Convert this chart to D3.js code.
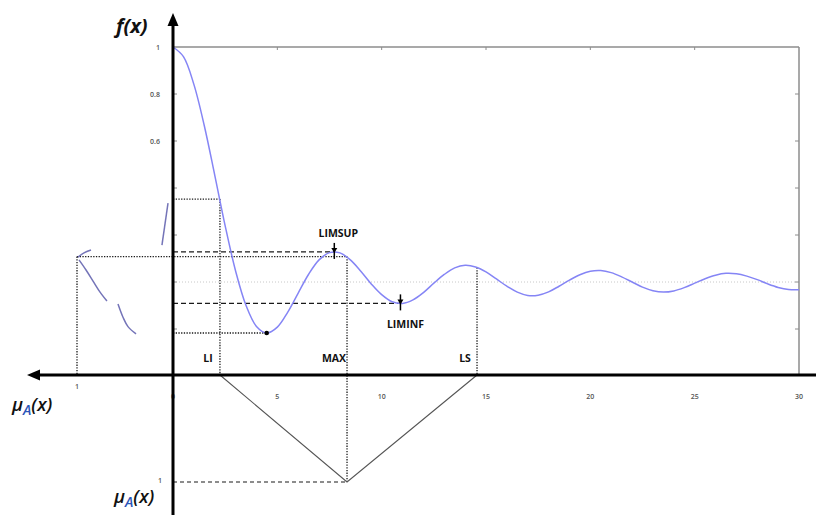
<!DOCTYPE html>
<html>
<head>
<meta charset="utf-8">
<script src="https://cdn.jsdelivr.net/npm/d3@7"></script>
<style>
  html, body { margin: 0; padding: 0; background: #fff; }
  svg { display: block; }
</style>
</head>
<body>
<svg id="chart" width="816" height="515"></svg>
<script>
// Damped oscillation f(x) sampled every 0.5 on [0, 30]
const xs = d3.range(0, 30.01, 0.5);
const fValues = [
  1.000, 0.959, 0.841, 0.665, 0.455, 0.239, 0.047, -0.100, -0.189, -0.217,
  -0.192, -0.128, -0.047, 0.033, 0.094, 0.125, 0.124, 0.094, 0.046, -0.008,
  -0.054, -0.084, -0.091, -0.076, -0.045, -0.005, 0.032, 0.060, 0.071, 0.064,
  0.043, 0.013, -0.018, -0.043, -0.057, -0.056, -0.042, -0.018, 0.008, 0.031,
  0.046, 0.049, 0.040, 0.022, 0.000, -0.022, -0.037, -0.043, -0.038, -0.024,
  -0.005, 0.014, 0.029, 0.037, 0.035, 0.025, 0.010, -0.008, -0.023, -0.032,
  -0.033
];
const xTicks = [0, 5, 10, 15, 20, 25, 30];
const yTicks = [-0.2, 0, 0.2, 0.4, 0.6, 0.8, 1];
const yTickLabels = ["1", "0.8", "0.6"];
const yLabelValues = [1, 0.8, 0.6];

// Characteristic points of the curve
const LI = 2.25, fLI = 0.353;
const MAXX = 8.34, fMAX = 0.108;
const LS = 14.57, fLS = 0.062;
const minPoint = [4.49, -0.217];
const limSup = [7.73, 0.128];
const limInf = [10.9, -0.091];

// Triangular membership (x, mu)
const triangle = [[LI, 0], [MAXX, 1], [LS, 0]];

// Sketched membership strokes on the left panel (mu, f)
const leftStrokes = [
  [[0.99, 0.106], [0.927, 0.124], [0.854, 0.136]],
  [[0.979, 0.094], [0.906, 0.051], [0.833, 0.004], [0.76, -0.043], [0.688, -0.081]],
  [[0.573, -0.094], [0.521, -0.150], [0.469, -0.190], [0.385, -0.221]],
  [[0.115, 0.157], [0.052, 0.336]]
];

const svg = d3.select("#chart");
const x = d3.scaleLinear().domain([0, 30]).range([173, 799]);
const y = d3.scaleLinear().domain([-0.4, 1]).range([376, 47]);
const muLeft = d3.scaleLinear().domain([0, 1]).range([173, 77]);
const muDown = d3.scaleLinear().domain([0, 1]).range([375, 482]);

const frame = "#8c8c8c";
const tickFont = "'Open Sans', 'DejaVu Sans', sans-serif";
const labelFont = "'Open Sans', 'Liberation Sans', sans-serif";

// Plot frame (top and right edges)
svg.append("line").attr("x1", x(0)).attr("x2", x(30)).attr("y1", y(1)).attr("y2", y(1))
  .attr("stroke", frame).attr("stroke-width", 1.5);
svg.append("line").attr("x1", x(30)).attr("x2", x(30)).attr("y1", y(1)).attr("y2", y(-0.4))
  .attr("stroke", frame).attr("stroke-width", 1.5);
// frame ticks
svg.selectAll(".ttick").data(xTicks.slice(1, -1)).enter().append("line")
  .attr("x1", d => x(d)).attr("x2", d => x(d)).attr("y1", y(1)).attr("y2", y(1) + 3)
  .attr("stroke", frame);
svg.selectAll(".rtick").data(yTicks.slice(0, -1)).enter().append("line")
  .attr("x1", x(30) - 4).attr("x2", x(30)).attr("y1", d => y(d)).attr("y2", d => y(d))
  .attr("stroke", frame);
svg.selectAll(".ltick").data(yTicks.slice(0, -1)).enter().append("line")
  .attr("x1", x(0)).attr("x2", x(0) + 4).attr("y1", d => y(d)).attr("y2", d => y(d))
  .attr("stroke", frame);

// Zero reference line
svg.append("line").attr("x1", x(0)).attr("x2", x(30)).attr("y1", y(0)).attr("y2", y(0))
  .attr("stroke", "#c8c8c8").attr("stroke-width", 1).attr("stroke-dasharray", "1,2");

// Tick labels
svg.selectAll(".xl").data(xTicks).enter().append("text")
  .attr("x", d => x(d)).attr("y", 399).attr("text-anchor", "middle")
  .attr("font-family", tickFont).attr("font-size", 7).attr("font-weight", 600).attr("fill", "#555")
  .text(d => d);
svg.selectAll(".yl").data(yLabelValues).enter().append("text")
  .attr("x", 160).attr("y", d => y(d) + 2.5).attr("text-anchor", "end")
  .attr("font-family", tickFont).attr("font-size", 7).attr("font-weight", 600).attr("fill", "#555")
  .text((d, i) => yTickLabels[i]);

// Guide lines
const dotted = "1.3,1.4";
const guide = (x1, y1, x2, y2, dash, w) => svg.append("line")
  .attr("x1", x1).attr("y1", y1).attr("x2", x2).attr("y2", y2)
  .attr("stroke", "#1a1a1a").attr("stroke-width", w || 1.3).attr("stroke-dasharray", dash);

guide(x(0), y(fLI), x(LI), y(fLI), dotted);
guide(x(LI), y(fLI), x(LI), muDown(0), dotted);
guide(muLeft(1), y(fMAX), x(MAXX), y(fMAX), dotted);
guide(muLeft(1), y(fMAX), muLeft(1), muDown(0), dotted);
guide(x(MAXX), y(fMAX), x(MAXX), muDown(1), dotted);
guide(x(LS), y(fLS), x(LS), muDown(0), dotted);
guide(x(0), y(minPoint[1]), x(minPoint[0]), y(minPoint[1]), dotted);
guide(x(0), y(limSup[1]), x(limSup[0]), y(limSup[1]), "5,3", 1.4);
guide(x(0), y(limInf[1]), x(limInf[0]), y(limInf[1]), "5,3", 1.4);
guide(x(0), muDown(1), x(MAXX), muDown(1), "4,3", 1.1);

// Triangular membership function
svg.append("path").datum(triangle)
  .attr("d", d3.line().x(d => x(d[0])).y(d => muDown(d[1])))
  .attr("fill", "none").attr("stroke", "#555").attr("stroke-width", 1.1);

// Main curve
svg.append("path").datum(xs.map((v, i) => [v, fValues[i]]))
  .attr("d", d3.line().curve(d3.curveCatmullRom).x(d => x(d[0])).y(d => y(d[1])))
  .attr("fill", "none").attr("stroke", "#8585f5").attr("stroke-width", 1.5);

// Left sketch strokes
svg.selectAll(".stroke").data(leftStrokes).enter().append("path")
  .attr("d", d3.line().curve(d3.curveCatmullRom).x(d => muLeft(d[0])).y(d => y(d[1])))
  .attr("fill", "none").attr("stroke", "#7474b8").attr("stroke-width", 1.5);

// Minimum point
svg.append("circle").attr("cx", x(minPoint[0])).attr("cy", y(minPoint[1])).attr("r", 2.3)
  .attr("fill", "#000");

// LIMSUP / LIMINF markers
function marker(px, py) {
  svg.append("line").attr("x1", px).attr("x2", px).attr("y1", py - 9).attr("y2", py + 7)
    .attr("stroke", "#000").attr("stroke-width", 1.5);
  svg.append("path")
    .attr("d", `M${px - 3},${py - 4} L${px + 3},${py - 4} L${px},${py + 1} Z`)
    .attr("fill", "#000");
}
marker(x(limSup[0]), y(limSup[1]));
marker(x(limInf[0]), y(limInf[1]));

// Main axes
svg.append("line").attr("x1", 36).attr("x2", 816).attr("y1", 375).attr("y2", 375)
  .attr("stroke", "#000").attr("stroke-width", 3);
svg.append("path").attr("d", "M27,375 L40,369.5 L40,380.5 Z").attr("fill", "#000");
svg.append("line").attr("x1", 173).attr("x2", 173).attr("y1", 22).attr("y2", 515)
  .attr("stroke", "#000").attr("stroke-width", 3);
svg.append("path").attr("d", "M173,13 L167.5,26 L178.5,26 Z").attr("fill", "#000");

// Point labels
const bold = (txt, px, py, anchor) => svg.append("text")
  .attr("x", px).attr("y", py).attr("text-anchor", anchor || "middle")
  .attr("font-family", labelFont).attr("font-weight", "bold").attr("font-size", 10.5)
  .attr("fill", "#111").text(txt);
bold("LIMSUP", x(limSup[0]) + 4, 237);
bold("LIMINF", x(limInf[0]) + 5, 328);
bold("LI", x(LI) - 12, 362);
bold("MAX", x(MAXX) - 13, 362);
bold("LS", x(LS) - 12, 362);

// Membership scale labels
svg.append("text").attr("x", muLeft(1)).attr("y", 389).attr("text-anchor", "middle")
  .attr("font-family", tickFont).attr("font-size", 7).attr("font-weight", 600).attr("fill", "#555").text("1");
svg.append("text").attr("x", 160).attr("y", muDown(1) + 0.5).attr("text-anchor", "middle")
  .attr("font-family", tickFont).attr("font-size", 7).attr("font-weight", 600).attr("fill", "#555").text("1");

// Axis titles
const axisTitle = "'Open Sans', 'DejaVu Sans', sans-serif";
svg.append("text").attr("x", 116).attr("y", 33)
  .attr("font-family", axisTitle).attr("font-style", "italic").attr("font-weight", "bold")
  .attr("font-size", 20).attr("fill", "#111").text("f(x)");

function muTitle(px, py) {
  const t = svg.append("text").attr("x", px).attr("y", py)
    .attr("font-family", axisTitle).attr("font-style", "italic").attr("font-weight", "600")
    .attr("font-size", 18.5).attr("fill", "#111");
  t.append("tspan").text("μ");
  t.append("tspan").attr("dy", 4).attr("font-size", 14).attr("fill", "#2b55b8").text("A");
  t.append("tspan").attr("dy", -4).text("(x)");
}
muTitle(12, 411);
muTitle(114, 503);
</script>
</body>
</html>
